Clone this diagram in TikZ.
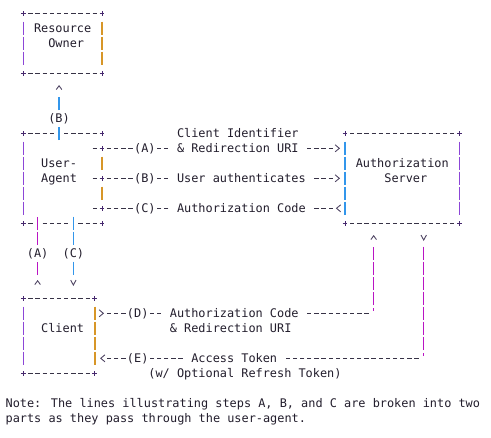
\documentclass[tikz,border=0pt]{standalone}
\usepackage{fontspec}
\newfontfamily\asciifont{DejaVu Sans Mono}
\usetikzlibrary{calc, arrows.meta, decorations.markings}

\definecolor{ink}{RGB}{35,30,45}
\definecolor{dashgray}{RGB}{55,50,70}
\definecolor{crossink}{RGB}{70,40,110}
\definecolor{tipink}{RGB}{80,70,100}
\definecolor{barpurple}{RGB}{140,70,215}
\definecolor{barorange}{RGB}{215,150,40}
\definecolor{barblue}{RGB}{50,150,235}
\definecolor{barmagenta}{RGB}{185,20,195}

\tikzset{
  plusmark/.pic={\draw[crossink, line width=0.9pt] (-2.4pt,0) -- (2.4pt,0) (0,-2.4pt) -- (0,2.4pt);}
}

% ascii frame round a box node: corners, dashed top and bottom, bars left and right
\newcommand\asciiframe[3]{%
  \draw[hyph] ($(#1.north west)+(0.7,0)$) -- ($(#1.north east)+(-0.7,0)$)
              ($(#1.south west)+(0.7,0)$) -- ($(#1.south east)+(-0.7,0)$);
  \draw[vbar=#2] ($(#1.north west)+(0,0.55)$) -- ($(#1.south west)+(0,-0.55)$);
  \draw[vbar=#3] ($(#1.north east)+(0,0.55)$) -- ($(#1.south east)+(0,-0.55)$);
  \foreach \cnr in {north west, north east, south west, south east}
    \pic at (#1.\cnr) {plusmark};
}

\begin{document}
\begin{tikzpicture}[x=7.15pt, y=-15pt,
    every node/.style={font=\asciifont\fontsize{11.88pt}{15pt}\selectfont, text=ink, inner sep=0pt, text height=9.5pt, text depth=1.5pt},
    boxarea/.style 2 args={minimum width=#1*7.15pt, minimum height=#2*15pt, outer sep=0pt},
    lbl/.style={fill=white, inner ysep=1.5pt},
    wide lbl/.style={lbl, inner xsep=7.15pt},
    hyph/.style={draw=dashgray, line width=0.9pt, dash pattern=on 4.3pt off 2.85pt},
    vbar/.style={draw=#1, line width=1.5pt, dash pattern=on 13.5pt off 1.5pt},
    angletip/.style 2 args={postaction={decorate}, decoration={markings, mark=at position #1 with {\arrow[xshift=#2, solid, tipink]{Straight Barb[length=4.2pt, width=7pt, line width=0.9pt]}}}},
    carettip/.style 2 args={postaction={decorate}, decoration={markings, mark=at position #1 with {\arrow[xshift=#2, solid, tipink]{Straight Barb[length=3.8pt, width=5.6pt, line width=0.9pt]}}}},
    veetip/.style 2 args={postaction={decorate}, decoration={markings, mark=at position #1 with {\arrow[xshift=#2, solid, tipink]{Straight Barb[length=5pt, width=5.4pt, line width=0.9pt]}}}}
]

\fill[white] (-3.259,-0.887) rectangle (65.413,28.247);
\useasboundingbox (-3.259,-0.887) rectangle (65.413,28.247);

% boxes
\node[boxarea={11}{4}] (owner) at (5.5,2) {};
\node[boxarea={11}{6}] (agent) at (5.5,11) {};
\node[boxarea={16}{6}] (server) at (53,11) {};
\node[boxarea={10}{5}] (client) at (5,21.5) {};

\asciiframe{owner}{barpurple}{barorange}
\asciiframe{server}{barblue}{barpurple}
\asciiframe{client}{barpurple}{barorange}

% user-agent frame, broken where the steps pass through it
\draw[hyph] (0.7,8) -- (4.3,8) (5.7,8) -- (10.3,8)
            (0.7,14) -- (1.3,14) (2.7,14) -- (6.3,14) (7.7,14) -- (10.3,14);
\draw[vbar=barpurple] (0,8.55) -- (0,13.45);
\draw[vbar=barorange] (11,9.55) -- (11,10.45) (11,11.55) -- (11,12.45);

% (A)
\draw[vbar=barmagenta, carettip={0}{-4.95pt}] ($(client.north west)+(2,-1.55)$) -- ($(agent.south west)+(2,-0.45)$);
\draw[hyph, angletip={1}{7.15pt}] ($(agent.north east)+(-1.3,1)$) -- ($(server.north west)+(-1.7,1)$);

% (B)
\draw[hyph, angletip={1}{7.15pt}] ($(agent.east)+(-1.3,0)$) -- ($(server.west)+(-1.7,0)$);
\draw[vbar=barblue, carettip={1}{11.55pt}] ($(agent.north west)+(5,0.45)$) -- ($(owner.south west)+(5,1.55)$);

% (C)
\draw[hyph, angletip={0}{-2.9pt}] ($(server.south west)+(-1.7,-1)$) -- ($(agent.south east)+(-1.3,-1)$);
\draw[vbar=barblue, veetip={1}{10.95pt}] ($(agent.south west)+(7,-0.45)$) -- ($(client.north west)+(7,-1.55)$);

% (D)
\coordinate (dturn) at ($(server.south west)+(4,6)$);
\draw[hyph, angletip={0}{-2.9pt}] ($(client.north east)+(1.7,1)$) -- ($(dturn)+(-0.7,0)$);
\draw[vbar=barmagenta, dash pattern=on 2.4pt off 3.3pt on 13.5pt off 1.5pt on 13.5pt off 1.5pt on 13.5pt off 1.5pt on 13.5pt off 5pt,
      carettip={1}{11.55pt}] ($(dturn)+(0,-0.17)$) -- ($(server.south west)+(4,1.55)$);

% (E)
\coordinate (eturn) at ($(server.south west)+(11,9)$);
\draw[vbar=barmagenta, dash pattern=on 13.5pt off 1.5pt on 13.5pt off 1.5pt on 13.5pt off 1.5pt on 13.5pt off 1.5pt on 13.5pt off 1.5pt on 13.5pt off 1.5pt on 13.5pt off 3.3pt on 2.4pt off 5pt,
      veetip={0}{-5.55pt}] ($(server.south west)+(11,1.55)$) -- ($(eturn)+(0,-0.17)$);
\draw[hyph, angletip={1}{6.9pt}] ($(eturn)+(-0.7,0)$) -- ($(client.south east)+(1.7,-1)$);

% junctions on the user-agent
\pic at (agent.north west) {plusmark};
\pic at (agent.south west) {plusmark};
\foreach \k in {8,9,11,13,14}
  \pic at (11,\k) {plusmark};

% box texts
\node (owner1) at (5.5,1) {Resource};
\node (owner2) at (6,2) {Owner};
\node (agent1) at (5,10) {User-};
\node (agent2) at (5,11) {Agent};
\node (server1) at (53,10) {Authorization};
\node (server2) at (53.5,11) {Server};
\node (client1) at (5.5,21) {Client};

% step labels
\node[lbl] (stepBup) at (5,7) {(B)};
\node[lbl] (stepA) at (17,9) {(A)};
\node[wide lbl] (redirA) at (30,9) {\& Redirection URI};
\node (clientid) at (30,8) {Client Identifier};
\node[lbl] (stepB) at (17,11) {(B)};
\node[wide lbl] (authn) at (30.5,11) {User authenticates};
\node[lbl] (stepC) at (17,13) {(C)};
\node[wide lbl] (codeC) at (30.5,13) {Authorization Code};
\node[lbl] (stepAdown) at (2,16) {(A)};
\node[lbl] (stepCdown) at (7,16) {(C)};
\node[lbl] (stepD) at (16,20) {(D)};
\node[wide lbl] (codeD) at (29.5,20) {Authorization Code};
\node (redirD) at (29,21) {\& Redirection URI};
\node[lbl] (stepE) at (16,23) {(E)};
\node[wide lbl] (token) at (29.5,23) {Access Token};
\node (refresh) at (31,24) {(w/ Optional Refresh Token)};

% note
\node[anchor=west] (note1) at (-2.5,26) {Note: The lines illustrating steps A, B, and C are broken into two};
\node[anchor=west] (note2) at (-2.5,27) {parts as they pass through the user-agent.};

\end{tikzpicture}
\end{document}
